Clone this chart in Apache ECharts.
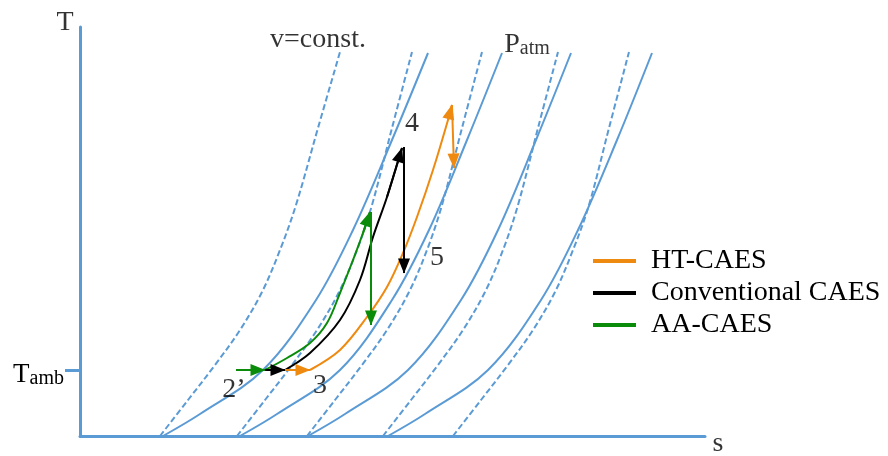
<!DOCTYPE html>
<html><head><meta charset="utf-8">
<script src="https://cdn.jsdelivr.net/npm/echarts@6/dist/echarts.min.js"></script>
<style>html,body{margin:0;padding:0;background:#fff}#c{width:888px;height:456px}</style>
</head><body><div id="c"></div>
<script>
// ---- data (abstract s / T units) ----
// isobars (solid curves)
const isobar1 = [[83,0],[120,22],[183,66],[236,136],[273,206],[312,296],[348,383]];
const isobar2 = [[160,0],[197,22],[260,66],[312,136],[349,206],[387,296],[422,383]];
const isobar3 = [[228,0],[265,22],[328,66],[381,136],[418,206],[456,296],[491,383]];
const isobar4 = [[308,0],[345,22],[408,66],[461,136],[498,206],[537,296],[572,383]];
// isochores (dashed curves, v = const.)
const isochore1 = [[80,0],[108,36],[135,71],[160,106],[182,144],[200,186],[216,231],[238,308],[260,384]];
const isochore2 = [[157,0],[185,36],[212,71],[237,106],[259,144],[277,186],[292,231],[312,308],[332,384]];
const isochore3 = [[227,0],[255,36],[282,71],[307,106],[329,144],[347,186],[362,231],[382,308],[402,384]];
const isochore4 = [[303,0],[331,36],[358,71],[383,106],[405,144],[423,186],[438,231],[458,308],[478,384]];
const isochore5 = [[373,0],[401,36],[428,71],[453,106],[475,144],[493,186],[509,231],[529,308],[549,384]];
// processes
const aaHeat = [[156,66],[185,66]];
const aaCompression = [[185,66],[207,78],[230,93],[247,113],[260,143],[273,176],[283,203],[290,224]];
const aaCooling = [[291,224],[291,111]];
const convHeat = [[185,66],[205,66]];
const convCompression = [[205,66],[230,83],[260,116],[280,156],[293,199],[307,239],[322,288]];
const convCooling = [[324,289],[324,163]];
const htHeat = [[205,66],[230,66]];
const htCompression = [[230,66],[260,86],[287,119],[307,149],[323,183],[337,219],[353,266],[368,316],[372,331]];
const htCooling = [[372,331],[374,268]];
// axis tick
const tambValue = 66;
const seriesNames = ['HT-CAES','Conventional CAES','AA-CAES'];

// ---- styling ----
const FONT = 'Liberation Serif';
const BLUE = '#5b9bd5';
const ORANGE = '#ef8a10';
const BLACK = '#000000';
const GREEN = '#0a8c0a';

// label anchors (data units)
const annotations = [
  {fmt:'{n|v=const.}', at:[238,396]},
  {fmt:'{n|T}', at:[-15,413]},
  {fmt:'{n|s}', at:[638,-8]},
  {fmt:'{b|P}{sb|atm}', at:[447,391]},
  {fmt:'{n|4}', at:[332,312]},
  {fmt:'{n|5}', at:[357,178]},
  {fmt:'{n|3}', at:[240,50]},
  {fmt:'{n|2\u2019}', at:[154,46]}
];

function curve(data, dashed) {
  return {type:'line', data, smooth:0.35, symbol:'none', silent:true, z:1,
    lineStyle:{color:BLUE, width:2, type: dashed ? [6,3] : 'solid'}};
}
function seg(a) { return [{coord:a[0]},{coord:a[a.length-1]}]; }
function process(name, color, heat, comp, cool) {
  return {type:'line', name, data:comp, smooth:0.35, symbol:'none', silent:true, z:3,
    itemStyle:{color}, lineStyle:{color, width:2},
    markLine:{silent:true, symbol:['none','triangle'], symbolSize:[12,15], symbolOffset:[0,[0,7]],
      label:{show:false}, emphasis:{disabled:true}, animation:false,
      lineStyle:{color, width:2, type:'solid'},
      data:[seg(heat), seg(comp.slice(-2)), seg(cool)]}};
}

const chart = echarts.init(document.getElementById('c'), null, {renderer:'canvas'});
chart.setOption({
  animation:false,
  backgroundColor:'#fff',
  grid:{left:80, top:27, width:625, height:409, containLabel:false},
  xAxis:{type:'value', min:0, max:625, axisLine:{show:true, lineStyle:{color:BLUE, width:3}},
    axisTick:{show:false}, axisLabel:{show:false}, splitLine:{show:false}},
  yAxis:{type:'value', min:0, max:409, axisLine:{show:true, lineStyle:{color:BLUE, width:3}},
    axisTick:{show:true, customValues:[tambValue], length:15, lineStyle:{color:BLUE, width:3}},
    axisLabel:{show:true, customValues:[tambValue], margin:16, padding:[10,0,0,0],
      formatter:()=>'{t|T}{s|amb}',
      rich:{t:{fontFamily:FONT, fontSize:27, color:'#000', verticalAlign:'bottom'},
            s:{fontFamily:FONT, fontSize:20, color:'#000', verticalAlign:'bottom'}}},
    splitLine:{show:false}},
  legend:{data:seriesNames, orient:'vertical', left:588, top:242, itemGap:4, icon:'rect',
    itemWidth:43, itemHeight:4, selectedMode:false,
    textStyle:{fontFamily:FONT, fontSize:28, color:'#000', lineHeight:28, padding:[0,0,0,10]}},
  series:[
    curve(isobar1,false), curve(isobar2,false), curve(isobar3,false), curve(isobar4,false),
    curve(isochore1,true), curve(isochore2,true), curve(isochore3,true), curve(isochore4,true), curve(isochore5,true),
    process(seriesNames[0], ORANGE, htHeat, htCompression, htCooling),
    process(seriesNames[1], BLACK, convHeat, convCompression, convCooling),
    process(seriesNames[2], GREEN, aaHeat, aaCompression, aaCooling),
    {type:'scatter', symbolSize:0, silent:true, clip:false, z:5,
      data: annotations.map(a=>({value:a.at, label:{formatter:a.fmt}})),
      label:{show:true, position:'inside', color:'#000',
        rich:{n:{fontFamily:FONT, fontSize:28, color:'#000'},
              b:{fontFamily:FONT, fontSize:28, color:'#000', verticalAlign:'bottom'},
              sb:{fontFamily:FONT, fontSize:20, color:'#000', verticalAlign:'bottom'}}}}
  ]
});
</script></body></html>
